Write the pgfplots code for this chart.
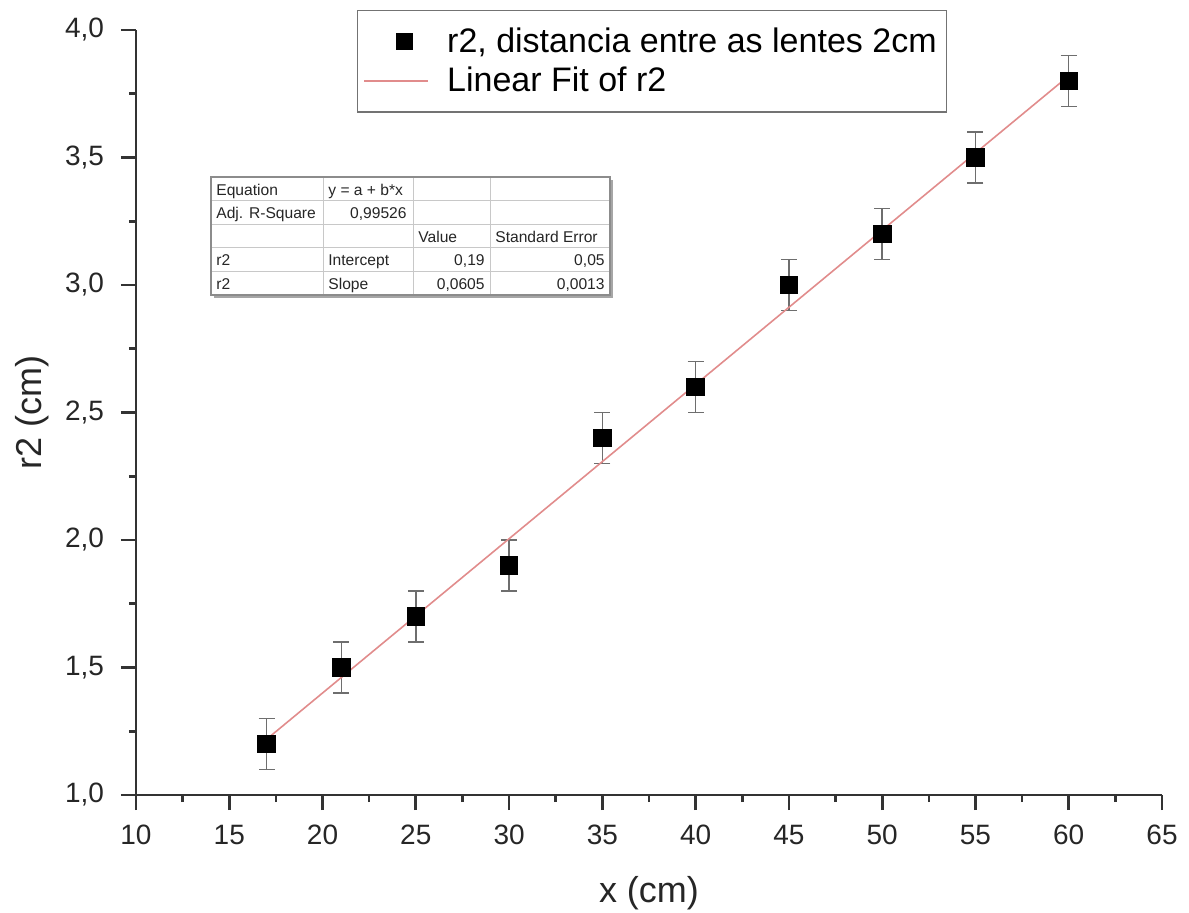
\documentclass[border=0pt]{standalone}
\usepackage{fontspec}
\setmainfont{Liberation Sans}
\usepackage{pgfplots}
\pgfplotsset{compat=1.18}
\definecolor{fitred}{RGB}{225,140,140}
\definecolor{errgray}{RGB}{110,110,110}
\definecolor{gridgray}{RGB}{200,200,200}
\pgfplotsset{fitleg/.style={legend image code/.code={\draw[##1] (0pt,0pt) -- (32pt,0pt);}},
  markleg/.style={legend image code/.code={\draw[##1, mark size=4pt] plot coordinates {(20pt,0pt)};}}}
\begin{document}
\begin{tikzpicture}
\useasboundingbox (-68pt,-58.5pt) rectangle (526.5pt,397.5pt);
\begin{axis}[
  scale only axis,
  width=513pt, height=382.5pt,
  xmin=10, xmax=65, ymin=1, ymax=4,
  axis x line*=bottom, axis y line*=left,
  axis line style={line width=1.3pt, black!80},
  major tick style={line width=1.4pt, black!80},
  minor tick style={line width=1.3pt, black!80},
  tick align=outside,
  major tick length=7.5pt,
  minor tick length=3.5pt,
  xtick={10,15,...,65},
  ytick={1,1.5,...,4},
  minor x tick num=1,
  minor y tick num=1,
  /pgf/number format/assume math mode=true,
  tick label style={font=\fontsize{14}{16}\selectfont, black!85},
  yticklabel style={xshift=-5pt, /pgf/number format/.cd, fixed, fixed zerofill, precision=1, use comma},
  xticklabel style={yshift=-4pt, /pgf/number format/.cd, fixed, precision=0},
  xlabel={x (cm)},
  ylabel={r2 (cm)},
  label style={font=\fontsize{18}{21}\selectfont, black!85},
  xlabel style={at={(axis description cs:0.5,0)}, anchor=center, yshift=-49pt},
  ylabel style={at={(axis description cs:0,0.5)}, anchor=center, yshift=52pt},
  legend style={at={(axis description cs:0.2154,1.026)}, anchor=north west,
    draw=black!55, line width=0.6pt,
    font=\fontsize{17}{20}\selectfont,
    inner xsep=3pt, inner ysep=6.5pt,
    row sep=2pt, column sep=7pt},
  legend cell align=left,
  clip=false,
]
\addplot[only marks, mark=square*, mark size=4.4pt, black, markleg,
  error bars/.cd, y dir=both, y explicit,
  error bar style={errgray, line width=0.7pt},
  error mark options={errgray, line width=0.7pt, mark size=4pt, rotate=90}]
  coordinates {
  (17,1.2) +- (0,0.1)
  (21,1.5) +- (0,0.1)
  (25,1.7) +- (0,0.1)
  (30,1.9) +- (0,0.1)
  (35,2.4) +- (0,0.1)
  (40,2.6) +- (0,0.1)
  (45,3.0) +- (0,0.1)
  (50,3.2) +- (0,0.1)
  (55,3.5) +- (0,0.1)
  (60,3.8) +- (0,0.1)
  };
\addlegendentry{r2, distancia entre as lentes 2cm}
\addplot[fitred, line width=0.8pt, no marks, fitleg]
  coordinates {(17,1.2185) (60,3.82)};
\addlegendentry{Linear Fit of r2}
\end{axis}
% fit parameter table
\begin{scope}[font=\fontsize{7.8}{9}\selectfont, every node/.style={text height=1.6ex, text depth=0.4ex, inner sep=0pt, text=black!85}]
\fill[black!35] (39pt,307.5pt) rectangle (238.5pt,248.5pt);
\fill[white] (37.5pt,309pt) rectangle (237pt,250pt);
\foreach \y in {297.2,285.4,273.6,261.8} \draw[gridgray, line width=0.5pt] (37.5pt,\y pt) -- (237pt,\y pt);
\foreach \x in {93.5,138.5,177} \draw[gridgray, line width=0.5pt] (\x pt,309pt) -- (\x pt,250pt);
\draw[black!45, line width=0.6pt] (37.5pt,309pt) rectangle (237pt,250pt);
\node[anchor=west] at (40pt,303.1pt) {Equation};
\node[anchor=west] at (96pt,303.1pt) {y = a + b*x};
\node[anchor=west] at (40pt,291.3pt) {Adj. R-Square};
\node[anchor=east] at (135.5pt,291.3pt) {0,99526};
\node[anchor=west] at (141pt,279.5pt) {Value};
\node[anchor=west] at (179.5pt,279.5pt) {Standard Error};
\node[anchor=west] at (40pt,267.7pt) {r2};
\node[anchor=west] at (96pt,267.7pt) {Intercept};
\node[anchor=east] at (174.5pt,267.7pt) {0,19};
\node[anchor=east] at (234.5pt,267.7pt) {0,05};
\node[anchor=west] at (40pt,255.9pt) {r2};
\node[anchor=west] at (96pt,255.9pt) {Slope};
\node[anchor=east] at (174.5pt,255.9pt) {0,0605};
\node[anchor=east] at (234.5pt,255.9pt) {0,0013};
\end{scope}
\end{tikzpicture}
\end{document}
